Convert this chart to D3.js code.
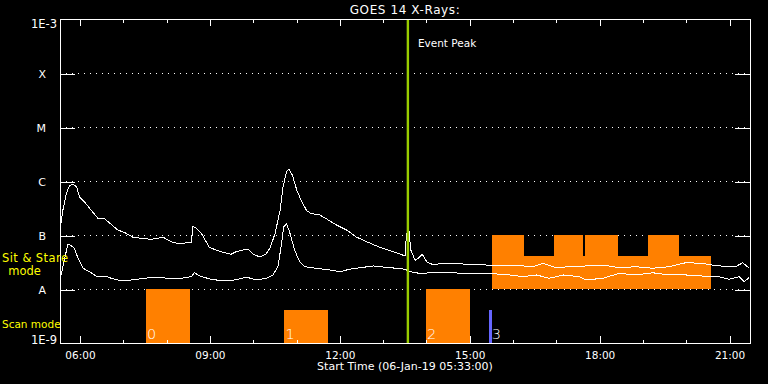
<!DOCTYPE html>
<html><head><meta charset="utf-8">
<script src="https://cdn.jsdelivr.net/npm/d3@7"></script>
<style>html,body{margin:0;padding:0;background:#000;}svg{display:block}</style>
</head><body>
<svg id="c" width="768" height="384"></svg>
<script>
// ---------- data ----------
const title = "GOES 14 X-Rays:";
const xLabel = "Start Time (06-Jan-19 05:33:00)";
const timeDomain = ["05:33", "21:29"];
const yDomain = [1e-9, 1e-3];
const classTicks = [1e-8, 1e-7, 1e-6, 1e-5, 1e-4];
const classLabels = ["A", "B", "C", "M", "X"];
const edgeLabels = ["1E-9", "1E-3"];

const longTimes = ["05:33","05:37","05:42","05:46","05:51","05:56","06:00","06:07","06:16","06:26","06:34","06:42","06:53","07:03","07:14","07:26","07:39","07:56","08:07","08:19","08:28","08:35","08:37","08:40","08:49","09:00","09:12","09:21","09:30","09:37","09:47","09:54","10:01","10:10","10:18","10:24","10:31","10:38","10:42","10:47","10:50","10:55","11:01","11:08","11:15","11:21","11:33","11:42","11:56","12:10","12:24","12:38","12:51","13:05","13:19","13:31","13:33","13:36","13:39","13:45","13:49","13:55","14:01","14:10","14:24","14:38","14:56","15:15","15:33","15:52","16:11","16:28","16:42","17:01","17:19","17:42","18:05","18:28","18:51","19:14","19:37","20:00","20:23","20:37","20:56","21:09","21:19","21:28"];
const longFlux = [1.2e-7,2.9e-7,6.0e-7,8.1e-7,8.8e-7,7.8e-7,5.1e-7,4.1e-7,2.9e-7,2.0e-7,2.05e-7,1.65e-7,1.24e-7,1.1e-7,9.1e-8,8.7e-8,8.3e-8,9.1e-8,7.5e-8,6.8e-8,7.2e-8,7.2e-8,1.43e-7,1.39e-7,1.07e-7,5.9e-8,5.1e-8,4.7e-8,4.4e-8,4.9e-8,5.3e-8,5.4e-8,4.4e-8,3.9e-8,4.4e-8,5.7e-8,1.07e-7,2.9e-7,7.8e-7,1.49e-6,1.65e-6,1.29e-6,6.8e-7,4.1e-7,2.8e-7,2.5e-7,2.35e-7,2.0e-7,1.53e-7,1.24e-7,9.1e-8,7.5e-8,6.3e-8,5.4e-8,4.7e-8,4.1e-8,1.0e-7,1.4e-7,5.3e-8,3.4e-8,3.7e-8,4.4e-8,3.2e-8,2.8e-8,3.0e-8,3.0e-8,2.87e-8,2.87e-8,2.67e-8,2.78e-8,2.7e-8,2.59e-8,2.99e-8,2.48e-8,2.59e-8,2.67e-8,2.78e-8,2.48e-8,2.59e-8,2.42e-8,2.59e-8,3.07e-8,2.99e-8,2.78e-8,2.59e-8,2.59e-8,3.07e-8,2.42e-8];

const shortTimes = ["05:34","05:40","05:44","05:49","05:53","05:58","06:05","06:14","06:23","06:35","06:44","06:56","07:12","07:30","07:44","08:03","08:21","08:35","08:39","08:49","09:03","09:16","09:30","09:52","10:05","10:19","10:28","10:35","10:40","10:43","10:47","10:51","10:58","11:05","11:12","11:28","11:47","12:01","12:14","12:33","12:47","13:05","13:19","13:31","13:38","13:51","14:10","14:33","14:56","15:19","15:38","15:56","16:15","16:33","16:51","17:10","17:33","17:42","18:05","18:28","18:51","19:14","19:37","20:00","20:23","20:42","21:00","21:14","21:21","21:28"];
const shortFlux = [1.69e-8,3.96e-8,6.8e-8,6.25e-8,5.7e-8,3.7e-8,2.42e-8,2.09e-8,1.74e-8,1.74e-8,1.58e-8,1.43e-8,1.47e-8,1.58e-8,1.65e-8,1.58e-8,1.58e-8,1.69e-8,2.0e-8,1.69e-8,1.51e-8,1.43e-8,1.43e-8,1.65e-8,1.47e-8,1.58e-8,1.82e-8,2.59e-8,7.0e-8,1.43e-7,1.6e-7,1.15e-7,5.3e-8,3.2e-8,2.59e-8,2.42e-8,2.25e-8,2.09e-8,2.32e-8,2.52e-8,2.67e-8,2.52e-8,2.42e-8,2.32e-8,2.09e-8,1.95e-8,2.0e-8,2.0e-8,1.95e-8,1.95e-8,1.9e-8,1.82e-8,1.69e-8,1.82e-8,1.58e-8,1.82e-8,1.69e-8,1.47e-8,1.58e-8,1.95e-8,1.82e-8,2.0e-8,1.82e-8,1.82e-8,1.74e-8,1.74e-8,1.51e-8,1.69e-8,1.36e-8,1.65e-8];

// Scan mode rasters
const scanStart = ["07:32", "10:44", "14:00", "15:27"];
const scanEnd   = ["08:33", "11:45", "15:01", "15:31"];
const scanTop   = [1e-8, 4e-9, 1e-8, 4e-9];
const scanBase  = 1e-9;
const scanLabels = ["0", "1", "2", "3"];
const scanState = ["done", "done", "done", "current"];

// Sit & Stare periods
const stareStart = ["15:31", "15:31", "16:57", "17:41", "19:08"];
const stareEnd   = ["20:35", "16:16", "17:38", "18:26", "19:51"];
const stareTop   = [4e-8, 1e-7, 1e-7, 1e-7, 1e-7];
const stareBase  = 1e-8;

const eventPeak = "13:35";
const eventLabel = "Event Peak";
const modeLabels = [["Sit & Stare", "mode"], ["Scan mode"]];

// ---------- drawing ----------
const W = 768, H = 384;
const L = 60, R = 750, T = 19, B = 343;
const FONT = "DejaVu Sans, sans-serif";
const ORANGE = "#ff8000", BLUE = "#6666ff", GREEN = "#99cc00";
const parse = d3.timeParse("%H:%M");

const svg = d3.select("#c");
svg.append("rect").attr("width", W).attr("height", H).attr("fill", "#000");

const x = d3.scaleTime().domain(timeDomain.map(parse)).range([L, R]);
const y = d3.scaleLog().domain(yDomain).range([B, T]);

// dotted gridlines
svg.append("g").selectAll("line").data(classTicks).join("line")
  .attr("x1", L).attr("x2", R)
  .attr("y1", d => Math.round(y(d)) + 0.5).attr("y2", d => Math.round(y(d)) + 0.5)
  .attr("stroke", "#fff").attr("stroke-width", 1).attr("stroke-dasharray", "1,5")
  .attr("shape-rendering", "crispEdges");

// Sit & stare bars
svg.append("g").selectAll("rect").data(stareStart.map((s, i) => ({s, e: stareEnd[i], top: stareTop[i]})))
  .join("rect")
  .attr("x", d => x(parse(d.s))).attr("width", d => x(parse(d.e)) - x(parse(d.s)))
  .attr("y", d => y(d.top)).attr("height", d => y(stareBase) - y(d.top))
  .attr("fill", ORANGE).attr("shape-rendering", "crispEdges");

// Scan bars
const scan = scanStart.map((s, i) => ({s, e: scanEnd[i], top: scanTop[i], label: scanLabels[i], state: scanState[i]}));
svg.append("g").selectAll("rect").data(scan).join("rect")
  .attr("x", d => x(parse(d.s))).attr("width", d => x(parse(d.e)) - x(parse(d.s)))
  .attr("y", d => y(d.top)).attr("height", d => y(scanBase) - y(d.top))
  .attr("fill", d => d.state === "current" ? BLUE : ORANGE).attr("shape-rendering", "crispEdges");

// curves
const line = d3.line().x(d => x(d[0])).y(d => y(d[1]));
const longData = longTimes.map((t, i) => [parse(t), longFlux[i]]);
const shortData = shortTimes.map((t, i) => [parse(t), shortFlux[i]]);
[longData, shortData].forEach(dat => {
  svg.append("path").datum(dat).attr("d", line)
    .attr("fill", "none").attr("stroke", "#fff").attr("stroke-width", 1)
    .attr("shape-rendering", "crispEdges");
});

// event peak line
const ex = x(parse(eventPeak));
svg.append("line").attr("x1", ex).attr("x2", ex).attr("y1", T).attr("y2", B)
  .attr("stroke", GREEN).attr("stroke-width", 2.4);
svg.append("text").attr("x", ex + 10).attr("y", 47).text(eventLabel)
  .attr("fill", "#fff").attr("font-family", FONT).attr("font-size", 10.5);

// scan labels
svg.append("g").selectAll("text").data(scan).join("text")
  .attr("x", d => x(parse(d.s)) + (d.state === "current" ? 3 : 1)).attr("y", 339)
  .text(d => d.label).attr("fill", "#fff").attr("font-family", FONT).attr("font-size", 14.5)
  .attr("font-weight", 300);

// frame
svg.append("rect").attr("x", L + 0.5).attr("y", T + 0.5).attr("width", R - L).attr("height", B - T)
  .attr("fill", "none").attr("stroke", "#fff").attr("stroke-width", 1).attr("shape-rendering", "crispEdges");

// x axes
function styleAxis(g) {
  g.attr("color", "#fff").attr("font-family", FONT);
  g.select(".domain").remove();
  g.selectAll("line").attr("shape-rendering", "crispEdges");
}
svg.append("g").attr("transform", `translate(0.5,${B})`)
  .call(d3.axisBottom(x).ticks(d3.timeHour.every(1)).tickSize(-3.5).tickFormat(""))
  .call(styleAxis);
svg.append("g").attr("transform", `translate(0.5,${B})`)
  .call(d3.axisBottom(x).ticks(d3.timeHour.every(3)).tickSize(-7).tickPadding(9).tickFormat(d3.timeFormat("%H:%M")))
  .call(styleAxis)
  .call(g => g.selectAll("text").attr("font-size", 10.5).attr("fill", "#fff"));
svg.append("g").attr("transform", `translate(0.5,${T})`)
  .call(d3.axisTop(x).ticks(d3.timeHour.every(1)).tickSize(-3.5).tickFormat(""))
  .call(styleAxis);
svg.append("g").attr("transform", `translate(0.5,${T})`)
  .call(d3.axisTop(x).ticks(d3.timeHour.every(3)).tickSize(-7).tickFormat(""))
  .call(styleAxis);

// y axes (class ticks)
svg.append("g").attr("transform", `translate(${L},0.5)`)
  .call(d3.axisLeft(y).tickValues(classTicks).tickSize(-15).tickPadding(14)
    .tickFormat((d, i) => classLabels[i]))
  .call(styleAxis)
  .call(g => g.selectAll("text").attr("font-size", 11).attr("fill", "#fff"));
svg.append("g").attr("transform", `translate(${R},0.5)`)
  .call(d3.axisRight(y).tickValues(classTicks).tickSize(-15).tickFormat(""))
  .call(styleAxis);

// edge labels
svg.append("text").attr("x", 57).attr("y", B + 0.5).attr("text-anchor", "end")
  .text(edgeLabels[0]).attr("fill", "#fff").attr("font-family", FONT).attr("font-size", 11.5);
svg.append("text").attr("x", 57).attr("y", T + 8.5).attr("text-anchor", "end")
  .text(edgeLabels[1]).attr("fill", "#fff").attr("font-family", FONT).attr("font-size", 11.5);

// mode labels
svg.append("text").attr("x", 2).attr("y", 262).text(modeLabels[0][0])
  .attr("fill", "#ffff00").attr("font-family", FONT).attr("font-size", 11.5).attr("textLength", 66);
svg.append("text").attr("x", 24.5).attr("y", 275).attr("text-anchor", "middle").text(modeLabels[0][1])
  .attr("fill", "#ffff00").attr("font-family", FONT).attr("font-size", 11.5);
svg.append("text").attr("x", 2).attr("y", 328).text(modeLabels[1][0])
  .attr("fill", "#ffff00").attr("font-family", FONT).attr("font-size", 10.5);

// title and x label
svg.append("text").attr("x", (L + R) / 2).attr("y", 14).attr("text-anchor", "middle").text(title)
  .attr("fill", "#fff").attr("font-family", FONT).attr("font-size", 12).attr("letter-spacing", 0.6);
svg.append("text").attr("x", (L + R) / 2).attr("y", 370).attr("text-anchor", "middle").text(xLabel)
  .attr("fill", "#fff").attr("font-family", FONT).attr("font-size", 11);
</script>
</body></html>
